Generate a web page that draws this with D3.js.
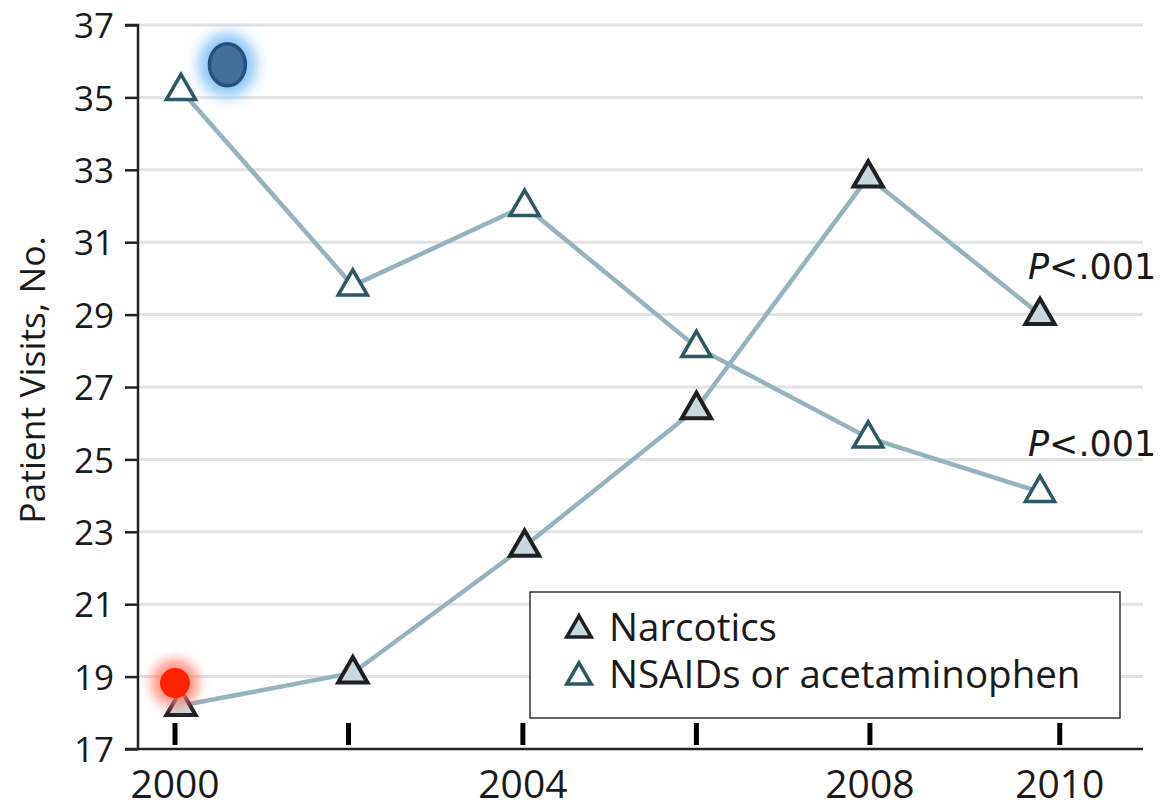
<!DOCTYPE html>
<html><head><meta charset="utf-8">
<script src="https://cdn.jsdelivr.net/npm/d3@7/dist/d3.min.js"></script>
<style>body{margin:0;background:#fff}svg{display:block}text{fill:#1a1a1a}</style>
</head><body><svg id="c" width="1164" height="810"></svg>
<script>
const years = [2000, 2002, 2004, 2006, 2008, 2010];
const narcotics = [18.2, 19.1, 22.6, 26.4, 32.8, 29.0];
const nsaids = [35.2, 29.8, 32.0, 28.1, 25.6, 24.1];
const yTicks = [17, 19, 21, 23, 25, 27, 29, 31, 33, 35, 37];
const xTickYears = [1999.93, 2001.95, 2003.98, 2006.0, 2008.02, 2010.23];
const xTickLabels = ["2000", "", "2004", "", "2008", "2010"];
const seriesNames = ["Narcotics", "NSAIDs or acetaminophen"];
const pLabels = ["P<.001", "P<.001"];
const highlights = [{year: 2000.54, value: 35.9, kind: "blue"}, {year: 1999.93, value: 18.82, kind: "red"}];

const F = "'Open Sans', sans-serif";
const svg = d3.select("#c");
const x = d3.scaleLinear().domain([2000, 2010]).range([181, 1040]);
const y = d3.scaleLinear().domain([17, 37]).range([749, 25]);
const axisX0 = 138, plotRight = 1143;

const defs = svg.append("defs");
const fb = defs.append("filter").attr("id","glowBlue").attr("x","-80%").attr("y","-80%").attr("width","260%").attr("height","260%");
fb.append("feGaussianBlur").attr("stdDeviation",7);
const fr = defs.append("filter").attr("id","glowRed").attr("x","-80%").attr("y","-80%").attr("width","260%").attr("height","260%");
fr.append("feGaussianBlur").attr("stdDeviation",6);

// gridlines
svg.append("g").selectAll("line").data(yTicks.filter(d=>d>17)).join("line")
  .attr("x1", axisX0).attr("x2", plotRight).attr("y1", d=>y(d)).attr("y2", d=>y(d))
  .attr("stroke", "#e1e2e3").attr("stroke-width", 3);

// y axis
const yAxis = svg.append("g").attr("transform", `translate(${axisX0},0)`)
  .call(d3.axisLeft(y).tickValues(yTicks).tickSize(13).tickPadding(11).tickFormat(d3.format("d")));
yAxis.select(".domain").attr("stroke","#222").attr("stroke-width",2.5).attr("d", `M-13,${y(37)}H0V${y(17)}`);
yAxis.selectAll(".tick line").attr("stroke","#222").attr("stroke-width",2.5);
yAxis.selectAll(".tick text").attr("font-size", 35).attr("fill","#1a1a1a").attr("font-family",F).attr("dy","0.36em");

// x baseline
svg.append("line").attr("x1", 125).attr("x2", plotRight).attr("y1", y(17)).attr("y2", y(17))
  .attr("stroke","#222").attr("stroke-width",2.5);

// x ticks (inside, above baseline)
const xt = svg.append("g").selectAll("g").data(xTickYears.map((v,i)=>({v, l:xTickLabels[i]}))).join("g")
  .attr("transform", d=>`translate(${x(d.v)},0)`);
xt.append("line").attr("y1", y(17)-26).attr("y2", y(17)-4).attr("stroke","#000").attr("stroke-width",5);
xt.append("text").attr("y", 798).attr("text-anchor","middle").attr("font-family",F).attr("font-size",39).text(d=>d.l);

// y label
svg.append("text").attr("transform", `translate(45,380) rotate(-90)`).attr("text-anchor","middle")
  .attr("font-family",F).attr("font-size", 35.5).text("Patient Visits, No.");

// lines
const line = d3.line().x((d,i)=>x(years[i])).y(d=>y(d));
[narcotics, nsaids].forEach(s => {
  svg.append("path").datum(s).attr("d", line).attr("fill","none").attr("stroke","#95b3bd").attr("stroke-width",4.5);
});

const tri = d3.symbol().type(d3.symbolTriangle).size(370);
const styles = [{fill:"#c8d8df", stroke:"#1f1f22", sw:4}, {fill:"#ffffff", stroke:"#2f5761", sw:3.5}];
[narcotics, nsaids].forEach((s, k) => {
  svg.append("g").selectAll("path").data(s).join("path")
    .attr("d", tri).attr("transform", (d,i)=>`translate(${x(years[i])},${y(d)+1})`)
    .attr("fill", styles[k].fill).attr("stroke", styles[k].stroke).attr("stroke-width", styles[k].sw)
    .attr("stroke-linejoin","miter");
});

// P labels
[narcotics, nsaids].forEach((s,k) => {
  const t = svg.append("text").attr("x", 1028).attr("y", y(s[s.length-1]) - 36)
    .attr("font-size", 35).attr("font-family","'DejaVu Sans', sans-serif");
  t.append("tspan").attr("font-style","italic").text(pLabels[k].slice(0,1));
  t.append("tspan").text(pLabels[k].slice(1));
});

// legend
const lg = svg.append("g");
lg.append("rect").attr("x", 530).attr("y", 592).attr("width", 590).attr("height", 126)
  .attr("fill","#fff").attr("stroke","#333").attr("stroke-width",1.5);
seriesNames.forEach((n,k) => {
  const cy = 627 + k*47;
  lg.append("path").attr("d", d3.symbol().type(d3.symbolTriangle).size(260))
    .attr("transform", `translate(579,${cy+3})`)
    .attr("fill", styles[k].fill).attr("stroke", styles[k].stroke).attr("stroke-width", 3.5);
  lg.append("text").attr("x", 609).attr("y", cy + 14).attr("font-family",F).attr("font-size", 38.5).text(n);
});

// highlight markers
highlights.forEach(h => {
  const cx = x(h.year), cy = y(h.value);
  if (h.kind === "blue") {
    svg.append("ellipse").attr("cx",cx).attr("cy",cy).attr("rx",29).attr("ry",32).attr("fill","#8cc4f5").attr("filter","url(#glowBlue)");
    svg.append("ellipse").attr("cx",cx).attr("cy",cy).attr("rx",18).attr("ry",21).attr("fill","#436f9f").attr("stroke","#25507f").attr("stroke-width",3.5);
  } else {
    svg.append("circle").attr("cx",cx).attr("cy",cy).attr("r",24).attr("fill","#ff7a6a").attr("opacity",0.8).attr("filter","url(#glowRed)");
    svg.append("circle").attr("cx",cx).attr("cy",cy).attr("r",15).attr("fill","#ff2200");
  }
});
</script></body></html>
